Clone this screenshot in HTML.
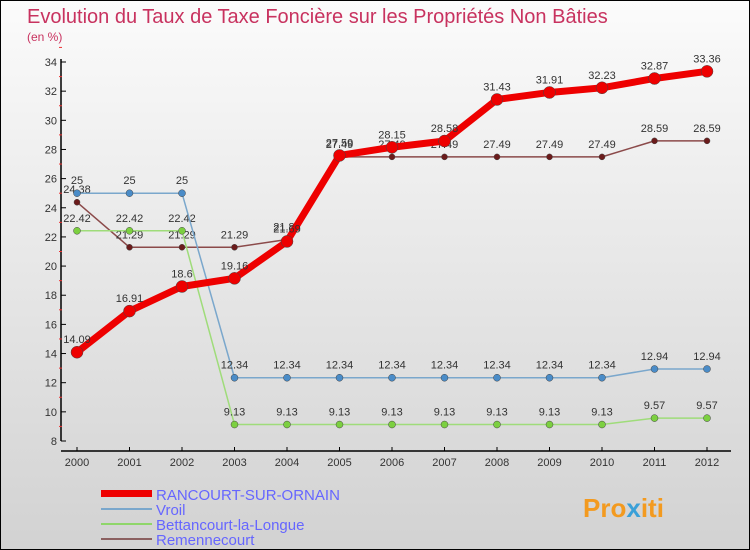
<!DOCTYPE html>
<html><head><meta charset="utf-8"><style>
body{margin:0}
#c{width:750px;height:550px;position:relative;box-sizing:border-box;border:1px solid #000;background:linear-gradient(#fbfbfb,#d2d2d2);font-family:"Liberation Sans",sans-serif;overflow:hidden}
text{font-family:"Liberation Sans",sans-serif}
</style></head><body>
<div id="c">
<svg id="s" width="750" height="550" style="position:absolute;left:0;top:0">
<text x="26" y="22" font-size="20" fill="#c8325f">Evolution du Taux de Taxe Foncière sur les Propriétés Non Bâties</text>
<text x="26" y="40" font-size="12" fill="#c8325f">(en %)</text>
<g id="ax"></g><g id="ser"></g>
<g>
<rect x="100" y="489" width="51" height="7" fill="#e00"/>
<text x="155" y="499" font-size="15" fill="#6666ff">RANCOURT-SUR-ORNAIN</text>
<rect x="100" y="507" width="51" height="2" fill="#7aa7cc"/>
<text x="155" y="514" font-size="15" fill="#6666ff">Vroil</text>
<rect x="100" y="522" width="51" height="2" fill="#8fd66a"/>
<text x="155" y="529" font-size="15" fill="#6666ff">Bettancourt-la-Longue</text>
<rect x="100" y="537" width="51" height="2" fill="#8b6060"/>
<text x="155" y="544" font-size="15" fill="#6666ff">Remennecourt</text>
</g>
<text x="582" y="516" font-size="26" font-weight="bold" fill="#f39a1f">Pro<tspan fill="#3aa0d8">x</tspan>iti</text>
</svg>
</div>
<script>
const years=[2000,2001,2002,2003,2004,2005,2006,2007,2008,2009,2010,2011,2012];
const rancourt=[14.09,16.91,18.6,19.16,21.69,27.59,28.15,28.58,31.43,31.91,32.23,32.87,33.36];
const vroil=[25,25,25,12.34,12.34,12.34,12.34,12.34,12.34,12.34,12.34,12.94,12.94];
const bettancourt=[22.42,22.42,22.42,9.13,9.13,9.13,9.13,9.13,9.13,9.13,9.13,9.57,9.57];
const remennecourt=[24.38,21.29,21.29,21.29,21.82,27.49,27.49,27.49,27.49,27.49,27.49,28.59,28.59];
const yTicks=[8,10,12,14,16,18,20,22,24,26,28,30,32,34];
const NS="http://www.w3.org/2000/svg";
const X=i=>76+i*52.5, Y=v=>440-(v-8)*(379/26);
function mk(p,t,a){const e=document.createElementNS(NS,t);for(const k in a)e.setAttribute(k,a[k]);p.appendChild(e);return e;}
const ax=document.getElementById('ax');
let l=mk(ax,'line',{x1:60,y1:58,x2:60,y2:440,stroke:'#000','stroke-width':1.5});

l=mk(ax,'line',{x1:60,y1:450,x2:730,y2:450,stroke:'#000','stroke-width':1.5});

yTicks.forEach(v=>{mk(ax,'line',{x1:60,y1:Y(v),x2:65,y2:Y(v),stroke:'#000'});
 mk(ax,'line',{x1:58,y1:Y(v+1),x2:61,y2:Y(v+1),stroke:'#e33'});
 const t=mk(ax,'text',{x:56,y:Y(v)+4,'font-size':11,fill:'#333','text-anchor':'end'});t.textContent=v;
 });
years.forEach((y,i)=>{mk(ax,'line',{x1:X(i),y1:446,x2:X(i),y2:450,stroke:'#000'});
 const t=mk(ax,'text',{x:X(i),y:465,'font-size':11,fill:'#333','text-anchor':'middle'});t.textContent=y;
 });
const ser=document.getElementById('ser');
function draw(d,name,col,w,r,dot,lab){const g=mk(ser,'g',{});
 
 const pl=mk(g,'polyline',{points:d.map((v,i)=>X(i)+','+Y(v)).join(' '),fill:'none',stroke:col,'stroke-width':w,'stroke-linejoin':'round'});
 
 d.forEach((v,i)=>{const c=mk(g,'circle',{cx:X(i),cy:Y(v),r:r,fill:dot,stroke:'#444','stroke-width':0.5});
  
  const t=mk(g,'text',{x:X(i),y:Y(v)-9,'font-size':11,fill:lab,'text-anchor':'middle'});t.textContent=v;
  });}
draw(remennecourt,'remennecourt','#8b4a4a',1.5,3,'#6b1b1b','#333');
draw(bettancourt,'bettancourt','#9fdc7a',1.5,3.5,'#7cd040','#333');
draw(vroil,'vroil','#7aa7cc',1.5,3.5,'#4a8cc8','#333');
draw(rancourt,'rancourt','#ee0000',7,6,'#ee0000','#333');
</script>
</body></html>
